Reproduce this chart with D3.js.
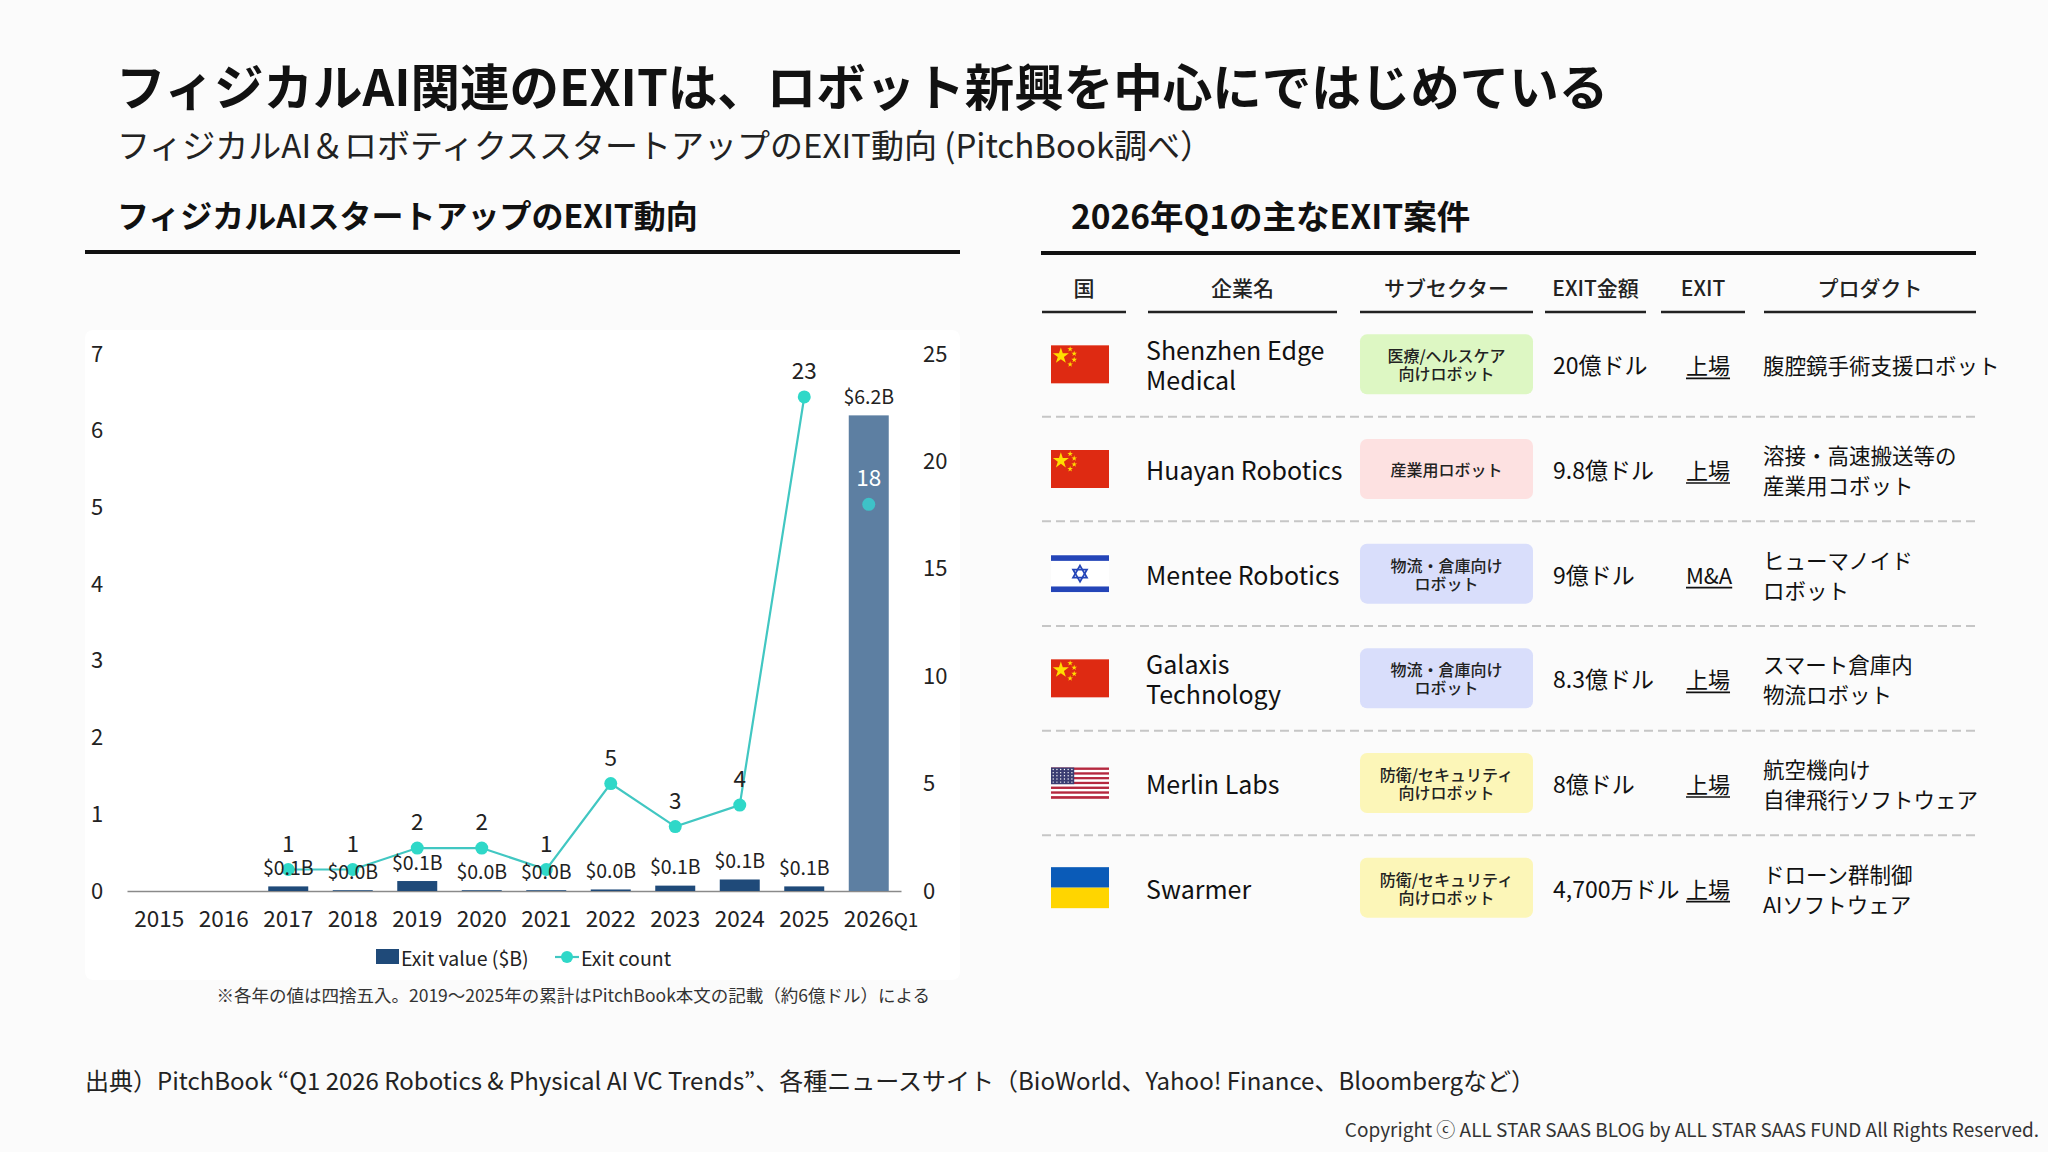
<!DOCTYPE html>
<html>
<head>
<meta charset="utf-8">
<script src="https://cdn.jsdelivr.net/npm/d3@7"></script>
<style>
  body { margin: 0; background: #fbfbfb; }
  svg { display: block; font-family: "Noto Sans CJK JP", "Noto Sans", sans-serif; }
</style>
</head>
<body>
<div id="slide"></div>
<script>
// chart data
var years = ["2015", "2016", "2017", "2018", "2019", "2020", "2021", "2022", "2023", "2024", "2025", "2026Q1"];
var exitValue = [null, null, 0.06, 0.01, 0.13, 0.01, 0.01, 0.02, 0.07, 0.15, 0.06, 6.2];
var exitCount = [null, null, 1, 1, 2, 2, 1, 5, 3, 4, 23, 18];
var partialYear = "2026Q1";
var leftTicks = [0, 1, 2, 3, 4, 5, 6, 7];
var rightTicks = [0, 5, 10, 15, 20, 25];

// table data
var tableHeaders = ["国", "企業名", "サブセクター", "EXIT金額", "EXIT", "プロダクト"];
var countries = ["CN", "CN", "IL", "CN", "US", "UA"];
var companies = [["Shenzhen Edge", "Medical"], ["Huayan Robotics"], ["Mentee Robotics"], ["Galaxis", "Technology"], ["Merlin Labs"], ["Swarmer"]];
var sectors = [["医療/ヘルスケア", "向けロボット"], ["産業用ロボット"], ["物流・倉庫向け", "ロボット"], ["物流・倉庫向け", "ロボット"], ["防衛/セキュリティ", "向けロボット"], ["防衛/セキュリティ", "向けロボット"]];
var amounts = ["20億ドル", "9.8億ドル", "9億ドル", "8.3億ドル", "8億ドル", "4,700万ドル"];
var exitTypes = ["上場", "上場", "M&A", "上場", "上場", "上場"];
var products = [["腹腔鏡手術支援ロボット"], ["溶接・高速搬送等の", "産業用コボット"], ["ヒューマノイド", "ロボット"], ["スマート倉庫内", "物流ロボット"], ["航空機向け", "自律飛行ソフトウェア"], ["ドローン群制御", "AIソフトウェア"]];

var sectorColor = {
    "医療/ヘルスケア": "#ddf7c3",
    "産業用ロボット": "#fde1e1",
    "物流・倉庫向け": "#d9defb",
    "防衛/セキュリティ": "#fcf6b8"
};

var W = 2048, H = 1152;
var svg = d3.select("#slide").append("svg").attr("width", W).attr("height", H);
svg.append("rect").attr("width", W).attr("height", H).attr("fill", "#fbfbfb");

// titles
svg.append("text").attr("x", 116).attr("y", 84).attr("dominant-baseline", "central")
    .attr("font-size", 49.5).attr("font-weight", 700).attr("fill", "#111")
    .text("フィジカルAI関連のEXITは、ロボット新興を中心にではじめている");
svg.append("text").attr("x", 117).attr("y", 144).attr("dominant-baseline", "central")
    .attr("font-size", 33).attr("fill", "#222")
    .text("フィジカルAI＆ロボティクススタートアップのEXIT動向 (PitchBook調べ）");

svg.append("text").attr("x", 117).attr("y", 214).attr("dominant-baseline", "central")
    .attr("font-size", 32).attr("font-weight", 700).attr("fill", "#111")
    .text("フィジカルAIスタートアップのEXIT動向");
svg.append("line").attr("x1", 85).attr("x2", 960).attr("y1", 252).attr("y2", 252)
    .attr("stroke", "#111").attr("stroke-width", 4);

svg.append("text").attr("x", 1071).attr("y", 214).attr("dominant-baseline", "central")
    .attr("font-size", 33.5).attr("font-weight", 700).attr("fill", "#111")
    .text("2026年Q1の主なEXIT案件");
svg.append("line").attr("x1", 1041).attr("x2", 1976).attr("y1", 253).attr("y2", 253)
    .attr("stroke", "#111").attr("stroke-width", 4);

// chart panel
svg.append("rect").attr("x", 85).attr("y", 330).attr("width", 875).attr("height", 650)
    .attr("rx", 8).attr("fill", "#ffffff");

var data = years.map(function(y, i) {
    return {year: y, value: exitValue[i], count: exitCount[i]};
});

var x = d3.scaleBand().domain(years).range([127, 901]).paddingInner(0.38).paddingOuter(0.19);
var yLeft = d3.scaleLinear().domain([0, 7]).range([891, 354]);
var yRight = d3.scaleLinear().domain([0, 25]).range([891, 354]);
var cx = function(d) { return x(d.year) + x.bandwidth() / 2; };

var chart = svg.append("g");

// axes
var leftAxis = chart.append("g").attr("transform", "translate(91,0)")
    .call(d3.axisLeft(yLeft).tickValues(leftTicks).tickFormat(d3.format("d")).tickSize(0).tickPadding(0));
leftAxis.select(".domain").remove();
leftAxis.selectAll("text").attr("text-anchor", "start").attr("font-size", 22)
    .attr("fill", "#222").attr("font-family", "'Noto Sans CJK JP', sans-serif");

var rightAxis = chart.append("g").attr("transform", "translate(923,0)")
    .call(d3.axisRight(yRight).tickValues(rightTicks).tickSize(0).tickPadding(0));
rightAxis.select(".domain").remove();
rightAxis.selectAll("text").attr("font-size", 22).attr("fill", "#222")
    .attr("font-family", "'Noto Sans CJK JP', sans-serif");

var xAxis = chart.append("g").attr("transform", "translate(0,891)")
    .call(d3.axisBottom(x).tickSize(0).tickSizeOuter(0).tickPadding(20));
xAxis.select(".domain").attr("stroke", "#8a8a8a").attr("stroke-width", 1.5);
xAxis.selectAll("text").attr("font-size", 22.5).attr("fill", "#222")
    .attr("font-family", "'Noto Sans CJK JP', sans-serif")
    .each(function(d) {
        if (d === partialYear) {
            var t = d3.select(this);
            t.text("2026");
            var w = this.getComputedTextLength();
            t.attr("text-anchor", "start").attr("x", -w / 2);
            t.append("tspan").attr("font-size", 19).text("Q1");
        }
    });

// bars
var barData = data.filter(function(d) { return d.value != null; });
chart.selectAll(".bar").data(barData).enter().append("rect")
    .attr("x", function(d) { return x(d.year); })
    .attr("y", function(d) { return yLeft(d.value); })
    .attr("width", x.bandwidth())
    .attr("height", function(d) { return yLeft(0) - yLeft(d.value); })
    .attr("fill", function(d) { return d.year === partialYear ? "#5d7fa2" : "#1f4a79"; });

// line (full years only)
var lineData = data.filter(function(d) { return d.count != null && d.year !== partialYear; });
chart.append("path").datum(lineData)
    .attr("fill", "none").attr("stroke", "#41c7c2").attr("stroke-width", 2.2)
    .attr("d", d3.line().x(cx).y(function(d) { return yRight(d.count); }));

var pointData = data.filter(function(d) { return d.count != null; });
chart.selectAll(".pt").data(pointData).enter().append("circle")
    .attr("cx", cx).attr("cy", function(d) { return yRight(d.count); })
    .attr("r", 6.5)
    .attr("fill", function(d) { return d.year === partialYear ? "#3ec2c8" : "#2fd8c8"; });

// value labels
chart.selectAll(".vlab").data(barData).enter().append("text")
    .attr("x", cx).attr("y", function(d) { return yLeft(d.value) - 20; })
    .attr("text-anchor", "middle").attr("dominant-baseline", "central")
    .attr("font-size", 19.5).attr("fill", "#222")
    .text(function(d) { return "$" + d3.format(".1f")(d.value) + "B"; });

// count labels
chart.selectAll(".clab").data(pointData).enter().append("text")
    .attr("x", cx).attr("y", function(d) { return yRight(d.count) - 28; })
    .attr("text-anchor", "middle").attr("dominant-baseline", "central")
    .attr("font-size", 22.5)
    .attr("fill", function(d) { return d.year === partialYear ? "#ffffff" : "#222"; })
    .text(function(d) { return d.count; });

// legend
var legend = chart.append("g");
legend.append("rect").attr("x", 376).attr("y", 949).attr("width", 23).attr("height", 15).attr("fill", "#1f4a79");
legend.append("text").attr("x", 401).attr("y", 957).attr("dominant-baseline", "central")
    .attr("font-size", 19.5).attr("fill", "#222").text("Exit value ($B)");
legend.append("line").attr("x1", 555).attr("x2", 579).attr("y1", 957).attr("y2", 957)
    .attr("stroke", "#41c7c2").attr("stroke-width", 2.2);
legend.append("circle").attr("cx", 567).attr("cy", 957).attr("r", 6).attr("fill", "#2fd8c8");
legend.append("text").attr("x", 581).attr("y", 957).attr("dominant-baseline", "central")
    .attr("font-size", 19.5).attr("fill", "#222").text("Exit count");

svg.append("text").attr("x", 930).attr("y", 994).attr("text-anchor", "end").attr("dominant-baseline", "central")
    .attr("font-size", 17.5).attr("fill", "#333")
    .text("※各年の値は四捨五入。2019～2025年の累計はPitchBook本文の記載（約6億ドル）による");

// ---- table ----
var colHeads = [
    {x1: 1042, x2: 1126}, {x1: 1148, x2: 1337}, {x1: 1360, x2: 1533},
    {x1: 1545, x2: 1646}, {x1: 1661, x2: 1745}, {x1: 1764, x2: 1976}
];
var table = svg.append("g");
table.selectAll(".th").data(tableHeaders).enter().append("text")
    .attr("x", function(d, i) { return (colHeads[i].x1 + colHeads[i].x2) / 2; })
    .attr("y", 287).attr("text-anchor", "middle").attr("dominant-baseline", "central")
    .attr("font-size", 21).attr("font-weight", 500).attr("fill", "#222")
    .text(function(d) { return d; });
table.selectAll(".thl").data(colHeads).enter().append("line")
    .attr("x1", function(d) { return d.x1; }).attr("x2", function(d) { return d.x2; })
    .attr("y1", 312).attr("y2", 312).attr("stroke", "#222").attr("stroke-width", 2.5);

var rowIdx = d3.range(companies.length);
var rowY = d3.scaleBand().domain(rowIdx).range([312, 940]);
var rc = function(i) { return rowY(i) + rowY.bandwidth() / 2; };

table.selectAll(".sep").data(rowIdx.slice(1)).enter().append("line")
    .attr("x1", 1042).attr("x2", 1976)
    .attr("y1", function(i) { return rowY(i); }).attr("y2", function(i) { return rowY(i); })
    .attr("stroke", "#c6c6c6").attr("stroke-width", 2).attr("stroke-dasharray", "9 5");

function multiline(g, lines, xPos, yMid, gap, attrs) {
    var t = g.append("text").attr("x", xPos).attr("dominant-baseline", "central");
    Object.keys(attrs).forEach(function(k) { t.attr(k, attrs[k]); });
    lines.forEach(function(s, j) {
        t.append("tspan").attr("x", xPos)
            .attr("y", yMid + (j - (lines.length - 1) / 2) * gap).text(s);
    });
    return t;
}

function drawFlag(g, code, fx, fy, fw, fh) {
    var f = g.append("g").attr("transform", "translate(" + fx + "," + fy + ")");
    var star = d3.symbol().type(d3.symbolStar);
    if (code === "CN") {
        f.append("rect").attr("width", fw).attr("height", fh).attr("fill", "#de2a12");
        f.append("path").attr("d", star.size(80)()).attr("fill", "#ffde00")
            .attr("transform", "translate(" + fw * 0.17 + "," + fh * 0.28 + ")");
        [[0.33, 0.1], [0.4, 0.22], [0.4, 0.38], [0.33, 0.5]].forEach(function(p) {
            f.append("path").attr("d", star.size(10)()).attr("fill", "#ffde00")
                .attr("transform", "translate(" + fw * p[0] + "," + fh * p[1] + ")");
        });
    } else if (code === "IL") {
        f.append("rect").attr("width", fw).attr("height", fh).attr("fill", "#ffffff");
        f.append("rect").attr("y", fh * 0.04).attr("width", fw).attr("height", fh * 0.14).attr("fill", "#2445b8");
        f.append("rect").attr("y", fh * 0.82).attr("width", fw).attr("height", fh * 0.14).attr("fill", "#2445b8");
        var r = fh * 0.2, c = [fw / 2, fh / 2];
        [0, Math.PI].forEach(function(a) {
            var pts = [0, 1, 2].map(function(k) {
                var ang = a - Math.PI / 2 + k * 2 * Math.PI / 3;
                return [c[0] + r * Math.cos(ang), c[1] + r * Math.sin(ang)];
            });
            f.append("path").attr("d", "M" + pts.join("L") + "Z")
                .attr("fill", "none").attr("stroke", "#2445b8").attr("stroke-width", 1.8);
        });
    } else if (code === "US") {
        var sh = fh / 13;
        d3.range(13).forEach(function(k) {
            f.append("rect").attr("y", k * sh).attr("width", fw).attr("height", sh + 0.3)
                .attr("fill", k % 2 === 0 ? "#b5283f" : "#ffffff");
        });
        f.append("rect").attr("width", fw * 0.4).attr("height", sh * 7).attr("fill", "#3b3d72");
        d3.range(5).forEach(function(rr) {
            d3.range(6).forEach(function(cc) {
                f.append("circle").attr("cx", 2.2 + cc * fw * 0.4 / 6.2).attr("cy", 2 + rr * sh * 7 / 5.3)
                    .attr("r", 0.7).attr("fill", "#ffffff");
            });
        });
    } else if (code === "UA") {
        f.append("rect").attr("width", fw).attr("height", fh / 2).attr("fill", "#0a5bb8");
        f.append("rect").attr("y", fh / 2).attr("width", fw).attr("height", fh / 2).attr("fill", "#ffd500");
    }
}

var flagH = {CN: 38, IL: 40, US: 31, UA: 41};

rowIdx.forEach(function(i) {
    var yc = rc(i);
    var g = table.append("g");
    drawFlag(g, countries[i], 1051, yc - flagH[countries[i]] / 2, 58, flagH[countries[i]]);

    multiline(g, companies[i], 1146, yc, 30, {"font-size": 25, "fill": "#111"});

    var sector = sectors[i];
    g.append("rect").attr("x", 1360).attr("y", yc - 30).attr("width", 173).attr("height", 60)
        .attr("rx", 7).attr("fill", sectorColor[sector[0]]);
    multiline(g, sector, 1446.5, yc, 18, {"font-size": 16, "font-weight": 500, "fill": "#222", "text-anchor": "middle"});

    g.append("text").attr("x", 1553).attr("y", yc).attr("dominant-baseline", "central")
        .attr("font-size", 23).attr("fill", "#111").text(amounts[i]);

    var ex = g.append("text").attr("x", 1686).attr("y", yc).attr("dominant-baseline", "central")
        .attr("font-size", 22).attr("fill", "#111").text(exitTypes[i]);
    var ew = ex.node().getComputedTextLength();
    g.append("line").attr("x1", 1686).attr("x2", 1686 + ew).attr("y1", yc + 14).attr("y2", yc + 14)
        .attr("stroke", "#111").attr("stroke-width", 1.6);

    multiline(g, products[i], 1763, yc, 30, {"font-size": 21.5, "fill": "#111"});
});

// footer
svg.append("text").attr("x", 85).attr("y", 1079).attr("dominant-baseline", "central")
    .attr("font-size", 24).attr("fill", "#222")
    .text("出典）PitchBook “Q1 2026 Robotics & Physical AI VC Trends”、各種ニュースサイト（BioWorld、Yahoo! Finance、Bloombergなど）");
svg.append("text").attr("x", 2039).attr("y", 1128).attr("text-anchor", "end").attr("dominant-baseline", "central")
    .attr("font-size", 19).attr("fill", "#333")
    .text("Copyright ⓒ ALL STAR SAAS BLOG by ALL STAR SAAS FUND All Rights Reserved.");
</script>
</body>
</html>
